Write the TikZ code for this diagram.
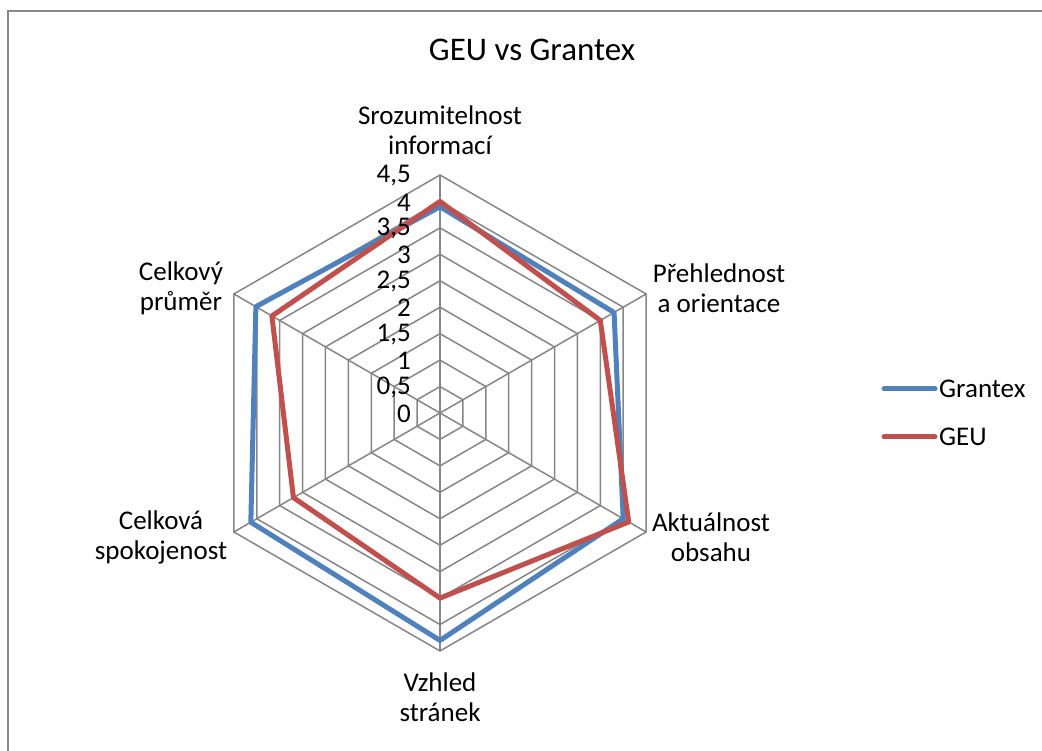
\documentclass[tikz,border=0pt]{standalone}
\usepackage{fontspec}
\setmainfont{Carlito}
\definecolor{gridgray}{HTML}{868686}
\definecolor{bordergray}{HTML}{898989}
\definecolor{gblue}{HTML}{4F81BD}
\definecolor{gred}{HTML}{C0504D}
\begin{document}
\begin{tikzpicture}[x=1pt,y=1pt,
  gridline/.style={draw=gridgray, line width=1.5pt},
  border/.style={draw=bordergray, line width=2pt},
  series/.style={line width=5pt, line join=round},
  lbl/.style={font=\fontsize{27}{30}\selectfont, align=center, inner sep=0pt},
  ticklbl/.style={font=\fontsize{27}{30}\selectfont, anchor=east, inner sep=0pt},
  titlestyle/.style={font=\fontsize{33}{38}\selectfont, inner sep=0pt}]
\useasboundingbox (0,0) rectangle (1042,751);
\fill[white] (0,0) rectangle (1042,751);
\draw[border] (8,0) -- (8,740) -- (1042,740);
\node[titlestyle] (title) at (532,701) {GEU vs Grantex};
\begin{scope}[shift={(440,338)}]
  \coordinate (C) at (0,0);
  \foreach \k in {1,...,9}{
    \pgfmathsetmacro\r{\k*26.444}
    \draw[gridline] (90:\r) -- (30:\r) -- (-30:\r) -- (-90:\r) -- (-150:\r) -- (150:\r) -- cycle;
  }
  \foreach \a [count=\i] in {90,30,-30,-90,-150,150}{
    \coordinate (v\i) at (\a:238);
    \draw[gridline] (C) -- (v\i);
  }
  % Grantex
  \foreach \a/\v [count=\i] in {90/3.9,30/3.8,-30/4.0,-90/4.3,-150/4.13,150/4.02}{
    \coordinate (g\i) at (\a:\v*52.889);
  }
  % GEU
  \foreach \a/\v [count=\i] in {90/4.0,30/3.5,-30/4.12,-90/3.5,-150/3.2,150/3.67}{
    \coordinate (e\i) at (\a:\v*52.889);
  }
  \draw[series, gblue] (g1) -- (g2) -- (g3) -- (g4) -- (g5) -- (g6) -- cycle;
  \draw[series, gred] (e1) -- (e2) -- (e3) -- (e4) -- (e5) -- (e6) -- cycle;
  \foreach \t [count=\k from 0] in {0,{0,5},1,{1,5},2,{2,5},3,{3,5},4,{4,5}}{
    \node[ticklbl] (t\k) at (-29,{\k*26.444-1}) {\t};
  }
\end{scope}
\node[lbl] (a1) at (440,621) {Srozumitelnost\\informací};
\node[lbl] (a2) at (719,463) {Přehlednost\\a orientace};
\node[lbl] (a3) at (711,214) {Aktuálnost\\obsahu};
\node[lbl] (a4) at (440,54) {Vzhled\\stránek};
\node[lbl] (a5) at (161,214) {Celková\\spokojenost};
\node[lbl] (a6) at (181,463) {Celkový\\průměr};
% legend
\coordinate (lb1) at (884,362);
\coordinate (lb2) at (935,362);
\coordinate (lr1) at (884,314);
\coordinate (lr2) at (935,314);
\draw[series, gblue, line cap=round] (lb1) -- (lb2);
\draw[series, gred, line cap=round] (lr1) -- (lr2);
\node[lbl, anchor=west] (lgb) at (939,362) {Grantex};
\node[lbl, anchor=west] (lgr) at (939,314) {GEU};
\end{tikzpicture}
\end{document}
